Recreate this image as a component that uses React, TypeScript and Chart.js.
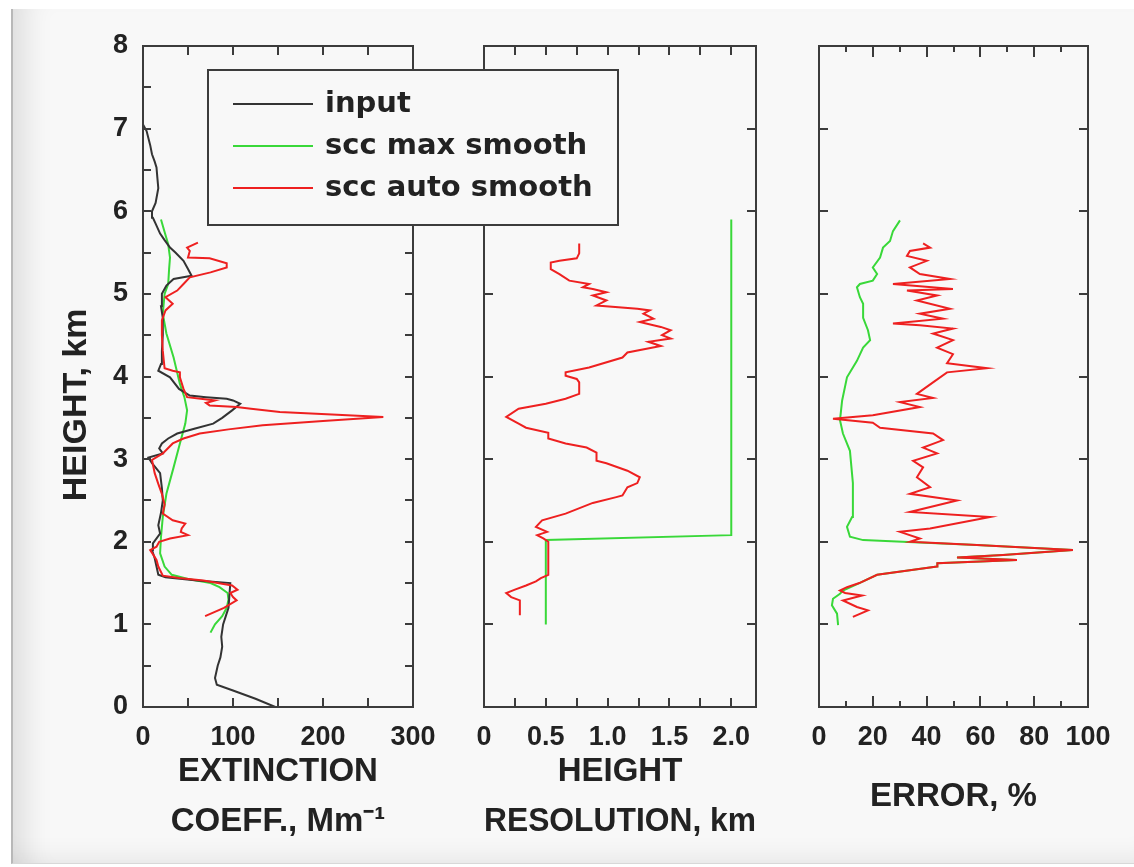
import React, { useEffect, useRef } from 'react';
import { Chart, registerables } from 'chart.js';

Chart.register(...registerables);

// ---------------- DATA ----------------
// Panel 1: extinction coefficient (Mm^-1) vs height (km)
const P1_INPUT_H = [0.0, 0.1, 0.2, 0.27, 0.35, 0.5, 0.6, 0.73, 0.85, 1.0, 1.1, 1.2, 1.35, 1.5, 1.53, 1.57, 1.6, 1.7, 1.8, 1.9, 1.98, 2.1, 2.2, 2.35, 2.5, 2.65, 2.83, 2.95, 3.02, 3.07, 3.13, 3.19, 3.25, 3.31, 3.37, 3.43, 3.5, 3.59, 3.67, 3.71, 3.73, 3.75, 3.77, 3.85, 3.99, 4.07, 4.15, 4.31, 4.5, 4.71, 4.85, 5.0, 5.1, 5.18, 5.22, 5.3, 5.4, 5.5, 5.56, 5.65, 5.73, 5.85, 5.92, 6.0, 6.1, 6.28, 6.4, 6.53, 6.6, 6.69, 6.8, 6.97, 7.05];
const P1_INPUT_V = [147, 125, 100, 82, 80, 83, 86, 88, 87, 89, 92, 95, 96, 97, 60, 25, 17, 15, 13, 10, 11, 19, 17, 20, 22, 21, 19, 10, 6, 22, 18, 21, 28, 38, 58, 78, 88, 99, 108, 100, 93, 70, 52, 40, 30, 17, 20, 21, 22, 22, 20, 21, 26, 34, 54, 50, 45, 36, 30, 24, 19, 14, 11, 10, 14, 17, 16, 15, 13, 10, 8, 4, 0];

const P1_MAX_H = [0.9, 1.0, 1.1, 1.2, 1.3, 1.38, 1.45, 1.5, 1.55, 1.6, 1.7, 1.86, 2.06, 2.3, 2.58, 2.9, 3.19, 3.43, 3.59, 3.75, 3.91, 4.23, 4.52, 4.76, 5.0, 5.12, 5.3, 5.44, 5.6, 5.75, 5.9];
const P1_MAX_V = [75, 80, 88, 93, 95, 94, 85, 75, 50, 32, 24, 19, 20, 22, 26, 34, 41, 47, 49, 46, 41, 34, 26, 22, 24, 28, 29, 30, 28, 24, 20];

const P1_AUTO_H = [1.1, 1.2, 1.29, 1.33, 1.38, 1.42, 1.47, 1.53, 1.56, 1.59, 1.7, 1.78, 1.85, 1.9, 1.94, 2.0, 2.04, 2.08, 2.12, 2.16, 2.22, 2.26, 2.34, 2.45, 2.58, 2.7, 2.83, 2.99, 3.07, 3.19, 3.25, 3.31, 3.36, 3.41, 3.46, 3.51, 3.54, 3.57, 3.61, 3.63, 3.65, 3.68, 3.71, 3.75, 3.85, 3.99, 4.05, 4.07, 4.1, 4.2, 4.31, 4.5, 4.68, 4.8, 4.88, 4.96, 5.04, 5.12, 5.2, 5.26, 5.32, 5.37, 5.43, 5.44, 5.52, 5.56, 5.62];
const P1_AUTO_V = [69, 90, 104, 100, 97, 105, 99, 67, 40, 22, 17, 15, 11, 8, 15, 18, 30, 50, 42, 43, 47, 33, 22, 24, 21, 17, 13, 10, 22, 33, 45, 63, 95, 133, 200, 267, 210, 152, 120, 104, 74, 70, 80, 49, 45, 41, 41, 33, 24, 23, 22, 21, 21, 25, 33, 25, 38, 45, 52, 75, 93, 93, 74, 50, 52, 49, 61];

// Panel 2: height resolution (km) vs height (km)
const P2_MAX_H = [1.0, 2.02, 2.08, 5.9];
const P2_MAX_V = [0.5, 0.5, 2.0, 2.0];

const P2_AUTO_H = [1.11, 1.2, 1.29, 1.33, 1.38, 1.42, 1.47, 1.52, 1.56, 1.6, 1.8, 2.0, 2.04, 2.08, 2.12, 2.18, 2.26, 2.34, 2.47, 2.54, 2.56, 2.66, 2.71, 2.78, 2.86, 2.95, 2.98, 3.08, 3.14, 3.19, 3.25, 3.32, 3.38, 3.43, 3.51, 3.61, 3.67, 3.73, 3.79, 3.93, 3.97, 4.01, 4.05, 4.11, 4.23, 4.29, 4.37, 4.42, 4.46, 4.5, 4.56, 4.6, 4.62, 4.66, 4.7, 4.76, 4.8, 4.82, 4.86, 4.92, 4.98, 5.02, 5.06, 5.08, 5.12, 5.16, 5.24, 5.3, 5.38, 5.4, 5.43, 5.49, 5.61];
const P2_AUTO_V = [0.29, 0.29, 0.29, 0.22, 0.18, 0.25, 0.34, 0.42, 0.46, 0.52, 0.52, 0.52, 0.48, 0.43, 0.51, 0.42, 0.47, 0.66, 0.88, 1.07, 1.12, 1.16, 1.24, 1.26, 1.16, 0.99, 0.91, 0.91, 0.83, 0.66, 0.52, 0.52, 0.34, 0.28, 0.18, 0.28, 0.5, 0.66, 0.77, 0.77, 0.75, 0.66, 0.66, 0.85, 1.12, 1.16, 1.43, 1.33, 1.51, 1.44, 1.51, 1.43, 1.37, 1.26, 1.37, 1.29, 1.34, 1.24, 0.91, 0.99, 0.88, 0.99, 0.88, 0.8, 0.85, 0.69, 0.61, 0.54, 0.54, 0.61, 0.75, 0.77, 0.77];

// Panel 3: error (%) vs height (km)
const P3_MAX_H = [0.99, 1.13, 1.23, 1.31, 1.37, 1.41, 1.5, 1.6, 1.7, 1.74, 1.78, 1.81, 1.84, 1.9, 1.96, 2.0, 2.02, 2.06, 2.18, 2.3, 2.71, 3.1, 3.31, 3.47, 3.71, 3.99, 4.19, 4.35, 4.44, 4.56, 4.71, 4.88, 4.96, 5.08, 5.12, 5.16, 5.24, 5.32, 5.44, 5.56, 5.64, 5.76, 5.89];
const P3_MAX_V = [7.1, 6.7, 4.8, 5.2, 7.8, 8.9, 15, 21.6, 43.9, 44, 73.6, 51.3, 68.4, 94.4, 58.7, 31, 16.4, 11.5, 10.4, 12.3, 12.6, 11.5, 8.9, 7.8, 8.6, 10.4, 14.1, 16.4, 19, 18.2, 16.4, 16.4, 15.2, 14.1, 15.2, 20, 21.6, 20, 22.7, 23.8, 26.4, 27.5, 30.1];

const P3_AUTO_H = [1.09, 1.17, 1.21, 1.29, 1.35, 1.38, 1.41, 1.45, 1.5, 1.6, 1.7, 1.74, 1.78, 1.81, 1.84, 1.9, 1.96, 2.0, 2.04, 2.12, 2.16, 2.3, 2.36, 2.5, 2.58, 2.66, 2.78, 2.9, 2.98, 3.07, 3.14, 3.23, 3.31, 3.38, 3.44, 3.49, 3.53, 3.63, 3.69, 3.74, 3.79, 3.92, 4.05, 4.1, 4.16, 4.27, 4.35, 4.44, 4.52, 4.58, 4.62, 4.64, 4.7, 4.76, 4.82, 4.92, 4.98, 5.04, 5.06, 5.12, 5.18, 5.24, 5.32, 5.4, 5.46, 5.52, 5.56, 5.61];
const P3_AUTO_V = [12.6, 18.2, 14.1, 8.9, 16, 9.7, 7.8, 10.4, 15, 21.6, 43.9, 44, 73.6, 51.3, 68.4, 94.4, 58.7, 33.8, 37.5, 30.1, 41.3, 63.6, 33.8, 51.3, 33.8, 41.3, 36.4, 38.7, 35, 43.9, 38.7, 46.1, 42.4, 22.7, 20, 5.2, 20, 37.5, 30.1, 42.4, 36.4, 42, 47.6, 62.5, 47.6, 49.8, 43.9, 49.8, 42.4, 49.8, 37.5, 27.5, 46.1, 37.5, 48.7, 36.4, 43.9, 32.7, 49.8, 27.5, 48.7, 37.5, 33.8, 40.1, 32.7, 33.8, 41.3, 38.7];

const SERIES_LABELS = ['input', 'scc max smooth', 'scc auto smooth'];
const Y_TITLE = 'HEIGHT, km';
const P1_TITLE = ['EXTINCTION', 'COEFF., Mm\u207B\u00B9'];
const P2_TITLE = ['HEIGHT', 'RESOLUTION, km'];
const P3_TITLE = 'ERROR, %';

// ---------------- STYLE ----------------
const W = 1134;
const H = 867;
const PLOT_TOP = 46;
const PLOT_BOTTOM = 707;
const BG = '#f8f8f8';
const AXIS = '#3c3c3c';
const TEXT = '#222222';
const C_INPUT = '#333333';
const C_MAX = '#39d839';
const C_AUTO = '#ee2020';
const FONT = '"Liberation Sans", Arial, sans-serif';
const TICK_FONT = { family: FONT, size: 27, weight: 'bold' as const };
const TITLE_FONT = { family: FONT, size: 33, weight: 'bold' as const, lineHeight: 1.515 };

const pts = (hs: number[], vs: number[]) => hs.map((h, i) => ({ x: vs[i], y: h }));

const frameTicks = {
  id: 'frameTicks',
  afterDatasetsDraw(chart: any, _a: any, o: any) {
    const { ctx, chartArea: a, scales } = chart;
    const x = scales.x;
    const y = scales.y;
    ctx.save();
    ctx.strokeStyle = AXIS;
    ctx.lineWidth = 2;
    ctx.beginPath();
    const nx = Math.round((x.max - x.min) / o.xStep);
    for (let i = 1; i < nx + 1; i++) {
      const v = x.min + i * o.xStep;
      if (v >= x.max - 1e-9) break;
      const major = Math.abs(v / o.xMajor - Math.round(v / o.xMajor)) < 1e-6;
      const len = major ? o.xMajorLen : o.xMinorLen;
      const px = Math.round(x.getPixelForValue(v));
      ctx.moveTo(px, a.top);
      ctx.lineTo(px, a.top + len);
      ctx.moveTo(px, a.bottom);
      ctx.lineTo(px, a.bottom - len);
    }
    const ny = Math.round((y.max - y.min) / o.yStep);
    for (let i = 1; i < ny; i++) {
      const v = y.min + i * o.yStep;
      const py = Math.round(y.getPixelForValue(v));
      ctx.moveTo(a.left, py);
      ctx.lineTo(a.left + o.yLen, py);
      ctx.moveTo(a.right, py);
      ctx.lineTo(a.right - o.yLen, py);
    }
    ctx.stroke();
    ctx.strokeRect(a.left, a.top, a.right - a.left, a.bottom - a.top);
    ctx.restore();
  },
};

const boxLegend = {
  id: 'boxLegend',
  afterDraw(chart: any, _a: any, o: any) {
    if (!o || !o.show) return;
    const { ctx, chartArea: a } = chart;
    const x0 = a.left + o.dx;
    const y0 = a.top + o.dy;
    ctx.save();
    ctx.fillStyle = BG;
    ctx.fillRect(x0, y0, o.w, o.h);
    ctx.strokeStyle = AXIS;
    ctx.lineWidth = 2;
    ctx.strokeRect(x0, y0, o.w, o.h);
    chart.data.datasets.forEach((ds: any, i: number) => {
      const yy = y0 + o.firstRow + i * o.rowGap;
      ctx.strokeStyle = ds.borderColor;
      ctx.lineWidth = 2;
      ctx.beginPath();
      ctx.moveTo(x0 + o.lineX0, yy);
      ctx.lineTo(x0 + o.lineX1, yy);
      ctx.stroke();
      ctx.fillStyle = TEXT;
      ctx.font = 'bold 29px "DejaVu Sans", sans-serif';
      ctx.textBaseline = 'middle';
      ctx.textAlign = 'left';
      ctx.fillText(ds.label, x0 + o.textX, yy);
    });
    ctx.restore();
  },
};

function lineDs(label: string, color: string, data: any[], order: number) {
  return { label, data, borderColor: color, backgroundColor: color, borderWidth: 2, pointRadius: 0, tension: 0, fill: false, order };
}

interface Panel {
  datasets: any[];
  right: number;
  yWidth: number;
  padLeft: number;
  xMin: number;
  xMax: number;
  xLabelStep: number;
  fmt: (v: number) => string;
  xTitle: string | string[];
  titlePadBottom: number;
  showY: boolean;
  ticks: any;
  legend: any;
}

function panelConfig(p: Panel): any {
  return {
    type: 'line',
    data: { datasets: p.datasets },
    plugins: [frameTicks, boxLegend],
    options: {
      animation: false,
      responsive: false,
      maintainAspectRatio: false,
      events: [],
      layout: { padding: { left: p.padLeft, right: W - p.right, top: PLOT_TOP, bottom: 0 } },
      plugins: {
        legend: { display: false },
        tooltip: { enabled: false },
        frameTicks: p.ticks,
        boxLegend: p.legend,
      },
      scales: {
        x: {
          type: 'linear',
          position: 'bottom',
          min: p.xMin,
          max: p.xMax,
          grid: { display: false, drawTicks: false },
          border: { display: false },
          ticks: {
            stepSize: p.xLabelStep,
            includeBounds: false,
            autoSkip: false,
            maxRotation: 0,
            padding: 14,
            color: TEXT,
            font: TICK_FONT,
            callback: (v: any) => p.fmt(Number(v)),
          },
          title: { display: true, text: p.xTitle, color: TEXT, font: TITLE_FONT, padding: { top: 0, bottom: p.titlePadBottom } },
          afterFit: (s: any) => { s.height = H - PLOT_BOTTOM; },
        },
        y: {
          type: 'linear',
          min: 0,
          max: 8,
          grid: { display: false, drawTicks: false },
          border: { display: false },
          ticks: { display: p.showY, stepSize: 1, padding: 15, color: TEXT, font: TICK_FONT },
          title: {
            display: p.showY,
            text: Y_TITLE + '      ',
            color: TEXT,
            font: { ...TITLE_FONT, size: 34, lineHeight: 1.2 },
            padding: { top: 16, bottom: 0 },
          },
          afterFit: (s: any) => { s.width = p.yWidth; },
        },
      },
    },
  };
}

export default function App() {
  const r1 = useRef<HTMLCanvasElement>(null);
  const r2 = useRef<HTMLCanvasElement>(null);
  const r3 = useRef<HTMLCanvasElement>(null);

  useEffect(() => {
    const c2 = new Chart(r2.current as HTMLCanvasElement, panelConfig({
      datasets: [
        lineDs(SERIES_LABELS[1], C_MAX, pts(P2_MAX_H, P2_MAX_V), 2),
        lineDs(SERIES_LABELS[2], C_AUTO, pts(P2_AUTO_H, P2_AUTO_V), 1),
      ],
      right: 756, yWidth: 0, padLeft: 484,
      xMin: 0, xMax: 2.2, xLabelStep: 0.5,
      fmt: (v) => (v === 0 ? '0' : v.toFixed(1)),
      xTitle: P2_TITLE, titlePadBottom: 20, showY: false,
      ticks: { xStep: 0.25, xMajor: 0.5, xMajorLen: 9, xMinorLen: 9, yStep: 1, yLen: 9 },
      legend: { show: false },
    }));
    const c3 = new Chart(r3.current as HTMLCanvasElement, panelConfig({
      datasets: [
        lineDs(SERIES_LABELS[1], C_MAX, pts(P3_MAX_H, P3_MAX_V), 2),
        lineDs(SERIES_LABELS[2], C_AUTO, pts(P3_AUTO_H, P3_AUTO_V), 1),
      ],
      right: 1088, yWidth: 0, padLeft: 819,
      xMin: 0, xMax: 100, xLabelStep: 20,
      fmt: (v) => String(Math.round(v)),
      xTitle: P3_TITLE, titlePadBottom: 45, showY: false,
      ticks: { xStep: 10, xMajor: 20, xMajorLen: 11, xMinorLen: 6, yStep: 1, yLen: 9 },
      legend: { show: false },
    }));
    const c1 = new Chart(r1.current as HTMLCanvasElement, panelConfig({
      datasets: [
        lineDs(SERIES_LABELS[0], C_INPUT, pts(P1_INPUT_H, P1_INPUT_V), 2),
        lineDs(SERIES_LABELS[1], C_MAX, pts(P1_MAX_H, P1_MAX_V), 3),
        lineDs(SERIES_LABELS[2], C_AUTO, pts(P1_AUTO_H, P1_AUTO_V), 1),
      ],
      right: 413, yWidth: 103, padLeft: 40,
      xMin: 0, xMax: 300, xLabelStep: 100,
      fmt: (v) => String(Math.round(v)),
      xTitle: P1_TITLE, titlePadBottom: 20, showY: true,
      ticks: { xStep: 50, xMajor: 100, xMajorLen: 9, xMinorLen: 9, yStep: 0.5, yLen: 8 },
      legend: { show: true, dx: 65, dy: 24, w: 410, h: 155, firstRow: 34, rowGap: 42, lineX0: 25, lineX1: 105, textX: 117 },
    }));
    return () => { c1.destroy(); c2.destroy(); c3.destroy(); };
  }, []);

  const cs: React.CSSProperties = { position: 'absolute', left: 0, top: 0, width: W, height: H };
  return (
    <div style={{ position: 'absolute', left: 0, top: 0, width: W, height: H, background: '#ffffff', overflow: 'hidden' }}>
      <div
        style={{
          position: 'absolute', left: 11, top: 9, width: W - 11, height: H - 13,
          background: BG, borderLeft: '2px solid #b8b8b8', borderBottom: '1px solid #d8d8d8',
          boxShadow: 'inset 34px 0 30px -24px rgba(0,0,0,0.12), inset 0 -26px 24px -20px rgba(0,0,0,0.07)',
        }}
      />
      <canvas ref={r2} width={W} height={H} style={cs} />
      <canvas ref={r3} width={W} height={H} style={cs} />
      <canvas ref={r1} width={W} height={H} style={cs} />
    </div>
  );
}
